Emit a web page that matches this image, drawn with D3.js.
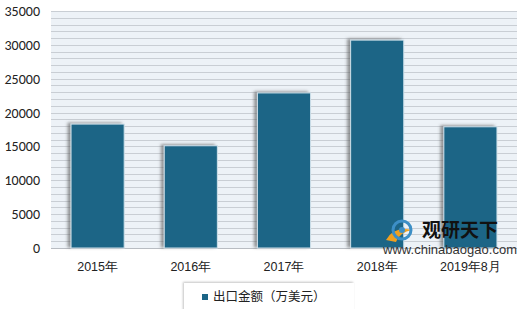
<!DOCTYPE html>
<html>
<head>
<meta charset="utf-8">
<script src="https://cdn.jsdelivr.net/npm/d3@7"></script>
<style>
body{margin:0;background:#fff;}
svg{display:block;font-family:Calibri,Carlito,"Liberation Sans","Noto Sans CJK SC",sans-serif;}
</style>
</head>
<body>
<svg id="chart" width="520" height="309"></svg>
<script>
var years = ['2015年','2016年','2017年','2018年','2019年8月']
var values = [18300, 15100, 22900, 30700, 17900]
var yTicks = [0,5000,10000,15000,20000,25000,30000,35000]
var seriesName = '出口金额（万美元）'

var svg = d3.select('#chart'),
    margin = {left:51, right:3, top:11, bottom:61},
    width = 520 - margin.left - margin.right,
    height = 309 - margin.top - margin.bottom

var defs = svg.append('defs')
var f = defs.append('filter').attr('id','shadow')
    .attr('x','-20%').attr('y','-20%').attr('width','140%').attr('height','140%')
f.append('feDropShadow').attr('dx',-3).attr('dy',-1).attr('stdDeviation',1.6)
    .attr('flood-color','#555').attr('flood-opacity',0.6)
var f2 = defs.append('filter').attr('id','lshadow')
    .attr('x','-20%').attr('y','-40%').attr('width','140%').attr('height','180%')
f2.append('feDropShadow').attr('dx',-1).attr('dy',-1).attr('stdDeviation',1.2)
    .attr('flood-color','#888').attr('flood-opacity',0.5)

var g = svg.append('g').attr('transform','translate('+margin.left+','+margin.top+')')

var x = d3.scaleBand().domain(years).range([0,width]).paddingInner(0.43).paddingOuter(0.215)
var y = d3.scaleLinear().domain([0,35000]).range([height,0])

g.append('rect').attr('width',width).attr('height',height).attr('fill','#edf2f7')

// minor gridlines every 1000
g.selectAll('.grid').data(d3.range(0,35001,1000)).join('line')
    .attr('x1',0).attr('x2',width)
    .attr('y1',d=>Math.round(y(d))+0.5).attr('y2',d=>Math.round(y(d))+0.5)
    .attr('stroke',d=>d==0 ? '#b8bcc2' : '#c9ced4').attr('stroke-width',1.2)

g.selectAll('.bar').data(values).join('rect')
    .attr('x',(d,i)=>x(years[i]))
    .attr('y',d=>y(d))
    .attr('width',x.bandwidth())
    .attr('height',d=>height-y(d))
    .attr('fill','#1b6586')
    .attr('stroke','#cfe0ea').attr('stroke-width',1)
    .attr('filter','url(#shadow)')

var yAxis = g.append('g').call(d3.axisLeft(y).tickValues(yTicks).tickFormat(d3.format('d')).tickSize(0).tickPadding(11))
yAxis.select('.domain').remove()
yAxis.selectAll('text').attr('font-size',14).attr('fill','#222')
    .style('font-family','Calibri,Carlito,"Liberation Sans",sans-serif')

var xAxis = g.append('g').attr('transform','translate(0,'+height+')')
    .call(d3.axisBottom(x).tickSize(0).tickPadding(14))
xAxis.select('.domain').remove()
xAxis.selectAll('text').attr('font-size',12.5).attr('fill','#222')

// legend
var lg = svg.append('g').attr('transform','translate(184,283)')
lg.append('rect').attr('width',170).attr('height',30).attr('fill','#fff').attr('filter','url(#lshadow)')
lg.append('rect').attr('x',18).attr('y',11).attr('width',6).attr('height',6).attr('fill','#1b6586')
lg.append('text').attr('x',29).attr('y',18).attr('font-size',12.5).attr('fill','#222')
    .style('font-family','"Noto Sans CJK SC",sans-serif').text(seriesName)

// watermark
var wm = svg.append('g').attr('transform','translate(386,218)')
wm.append('path').attr('d','M0,22 Q8,8 26,12 Q14,14 10,24 Z').attr('fill','#f0a020')
wm.append('circle').attr('cx',16).attr('cy',12).attr('r',9).attr('fill','none').attr('stroke','#3d8fc6').attr('stroke-width',3)
wm.append('circle').attr('cx',16).attr('cy',12).attr('r',3).attr('fill','#3d8fc6')
wm.append('text').attr('x',36).attr('y',19).attr('font-size',19).attr('font-weight','bold').attr('fill','#111')
    .style('font-family','"Noto Sans CJK SC",sans-serif').text('观研天下')
wm.append('text').attr('x',-3).attr('y',36).attr('font-size',13).attr('fill','#333')
    .style('font-family','"Liberation Sans",Arial,sans-serif').attr('textLength',134).text('www.chinabaogao.com')
</script>
</body>
</html>
